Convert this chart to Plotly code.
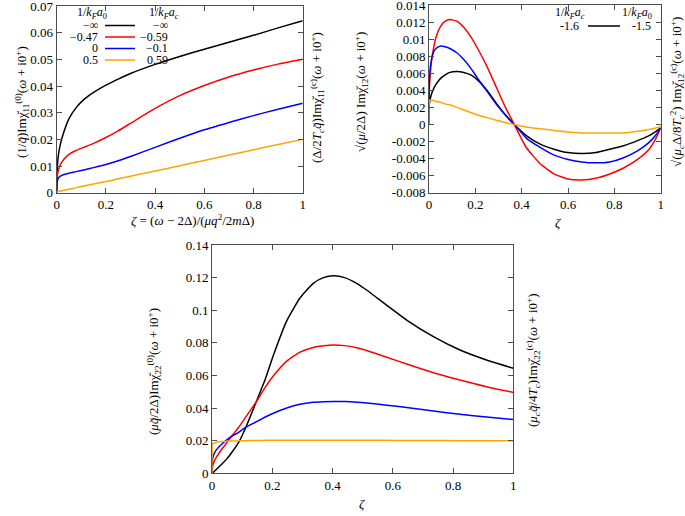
import plotly.graph_objects as go

W, H = 685, 516
def px(x): return x / W
def py(y): return 1 - y / H

FONT = "Liberation Serif, Times New Roman, DejaVu Serif, serif"
COLORS = ["#000000", "#ff0000", "#0000ff", "#ffa500"]

# ---------- Panel 1 (top-left): chi11 ----------
zeta_a = [0, 0.001, 0.003, 0.007, 0.015, 0.03, 0.05, 0.08, 0.11, 0.15, 0.2, 0.25, 0.3, 0.4, 0.5, 0.6, 0.7, 0.8, 0.9, 1.0]
chi11 = [
    [0, 0.0065, 0.0105, 0.0142, 0.0182, 0.0230, 0.0278, 0.0320, 0.0349, 0.0376, 0.0403, 0.0426, 0.0447, 0.0481, 0.0511, 0.0538, 0.0564, 0.0590, 0.0618, 0.0645],
    [0, 0.0045, 0.0068, 0.0085, 0.0105, 0.0126, 0.0144, 0.0159, 0.0170, 0.0185, 0.0207, 0.0232, 0.0260, 0.0316, 0.0364, 0.0402, 0.0434, 0.0460, 0.0482, 0.0500],
    [0, 0.003, 0.0045, 0.0055, 0.0062, 0.0068, 0.0073, 0.0079, 0.0085, 0.0094, 0.0106, 0.0120, 0.0136, 0.0170, 0.0204, 0.0236, 0.0263, 0.0289, 0.0313, 0.0335],
    [0, 0.0002, 0.0004, 0.0005, 0.0006, 0.0009, 0.0013, 0.0019, 0.0025, 0.0033, 0.0042, 0.0052, 0.0062, 0.0081, 0.0101, 0.0121, 0.0141, 0.0161, 0.0181, 0.0200],
]
leg_a0 = ["−∞", "−0.47", "0", "0.5"]
leg_ac = ["−∞", "−0.59", "−0.1", "0.59"]

# ---------- Panel 2 (top-right): chi12 ----------
zeta_b = [0, 0.002, 0.01, 0.02, 0.03, 0.05, 0.07, 0.09, 0.12, 0.15, 0.18, 0.21, 0.25, 0.29, 0.33, 0.368,
          0.42, 0.48, 0.54, 0.6, 0.66, 0.72, 0.78, 0.84, 0.9, 0.95, 0.98, 1.0]
chi12 = [
    [0, 0.0025, 0.0035, 0.0042, 0.0047, 0.0054, 0.0058, 0.0061, 0.0062, 0.0061, 0.0058, 0.0052, 0.0040, 0.0025, 0.0011, 0.0,
     -0.0013, -0.0023, -0.0029, -0.0033, -0.0034, -0.0033, -0.0029, -0.0025, -0.0019, -0.0013, -0.0008, -0.0004],
    [0, 0.0045, 0.0072, 0.0090, 0.0102, 0.0115, 0.0121, 0.0123, 0.0121, 0.0114, 0.0103, 0.0089, 0.0068, 0.0044, 0.0020, 0.0,
     -0.0027, -0.0046, -0.0058, -0.0064, -0.0065, -0.0063, -0.0058, -0.0051, -0.0041, -0.0029, -0.0016, -0.0004],
    [0, 0.0055, 0.0075, 0.0085, 0.0089, 0.0092, 0.0091, 0.0089, 0.0084, 0.0076, 0.0066, 0.0054, 0.0039, 0.0024, 0.0011, 0.0,
     -0.0016, -0.0027, -0.0036, -0.0041, -0.0044, -0.0045, -0.0044, -0.0039, -0.0031, -0.0021, -0.0012, -0.0004],
    [0, 0.0028, 0.0029, 0.0028, 0.0027, 0.0026, 0.0024, 0.0023, 0.0020, 0.0017, 0.0014, 0.0011, 0.0008, 0.0005, 0.0002, 0.0,
     -0.0003, -0.0005, -0.0007, -0.0009, -0.0010, -0.0010, -0.0010, -0.0010, -0.0008, -0.0006, -0.0004, -0.0002],
]
yticks_b = [-0.008, -0.006, -0.004, -0.002, 0, 0.002, 0.004, 0.006, 0.008, 0.01, 0.012, 0.014]
yticktext_b = ["-0.008", "-0.006", "-0.004", "-0.002", "0", "0.002", "0.004", "0.006", "0.008", "0.01", "0.012", "0.014"]

# ---------- Panel 3 (bottom): chi22 ----------
zeta_c = [0, 0.002, 0.006, 0.015, 0.033, 0.05, 0.066, 0.0885, 0.11, 0.144, 0.177, 0.204, 0.248, 0.292, 0.336, 0.37,
          0.403, 0.44, 0.48, 0.513, 0.58, 0.646, 0.735, 0.823, 0.911, 1.0]
chi22 = [
    [0, 0.0002, 0.0008, 0.0025, 0.0057, 0.009, 0.0129, 0.019, 0.0272, 0.0425, 0.0578, 0.0725, 0.0935, 0.1075, 0.1165, 0.1200,
     0.1211, 0.1200, 0.1165, 0.1124, 0.103, 0.094, 0.0838, 0.0756, 0.0695, 0.0644],
    [0, 0.004, 0.0067, 0.0100, 0.0149, 0.0190, 0.0230, 0.0282, 0.0340, 0.0430, 0.0528, 0.0598, 0.0688, 0.0743, 0.0772, 0.0782,
     0.0787, 0.0783, 0.0770, 0.0753, 0.0712, 0.0670, 0.0617, 0.0572, 0.0531, 0.0496],
    [0, 0.0088, 0.0115, 0.0145, 0.0180, 0.0206, 0.0228, 0.0251, 0.0280, 0.0313, 0.0345, 0.0368, 0.0400, 0.0423, 0.0435, 0.0439,
     0.0441, 0.0440, 0.0436, 0.0431, 0.0418, 0.0403, 0.0382, 0.0362, 0.0345, 0.0330],
    [0, 0.0180, 0.0186, 0.0191, 0.0195, 0.0197, 0.0198, 0.0199, 0.0200, 0.0201, 0.0202, 0.0202, 0.0202, 0.0203, 0.0203, 0.0203,
     0.0203, 0.0203, 0.0202, 0.0202, 0.0202, 0.0201, 0.0201, 0.0200, 0.0200, 0.0199],
]

fig = go.Figure()
for ys, c in zip(chi11, COLORS):
    fig.add_trace(go.Scatter(x=zeta_a, y=ys, mode="lines", line=dict(color=c, width=1.5, shape="spline", smoothing=0.5),
                             xaxis="x", yaxis="y", showlegend=False))
for ys, c in zip(chi12, COLORS):
    fig.add_trace(go.Scatter(x=zeta_b, y=ys, mode="lines", line=dict(color=c, width=1.5, shape="spline", smoothing=0.5),
                             xaxis="x2", yaxis="y2", showlegend=False))
for ys, c in zip(chi22, COLORS):
    fig.add_trace(go.Scatter(x=zeta_c, y=ys, mode="lines", line=dict(color=c, width=1.5, shape="spline", smoothing=0.5),
                             xaxis="x3", yaxis="y3", showlegend=False))

axis_style = dict(showline=True, linecolor="#4d4d4d", linewidth=1, mirror="ticks", ticks="inside",
                  ticklen=5, tickcolor="#4d4d4d", showgrid=False, zeroline=False, automargin=False,
                  ticklabeloverflow="allow",
                  tickfont=dict(family=FONT, size=13, color="black"))
xticks = [0, 0.2, 0.4, 0.6, 0.8, 1]
fig.update_layout(
    width=W, height=H, margin=dict(l=0, r=0, t=0, b=0, autoexpand=False),
    paper_bgcolor="white", plot_bgcolor="white",
    font=dict(family=FONT, size=13, color="black"),
    xaxis=dict(domain=[px(56.7), px(302.7)], range=[0, 1], tickvals=xticks, anchor="y", **axis_style),
    yaxis=dict(domain=[py(192.7), py(6)], range=[0, 0.07], dtick=0.01, anchor="x", **axis_style),
    xaxis2=dict(domain=[px(429), px(660.7)], range=[0, 1], tickvals=xticks, anchor="y2", **axis_style),
    yaxis2=dict(domain=[py(192.7), py(5)], range=[-0.008, 0.014], tickvals=yticks_b, ticktext=yticktext_b,
                anchor="x2", **axis_style),
    xaxis3=dict(domain=[px(212), px(513.3)], range=[0, 1], tickvals=xticks, anchor="y3", **axis_style),
    yaxis3=dict(domain=[py(473.3), py(245)], range=[0, 0.14], dtick=0.02, anchor="x3", **axis_style),
)

ann = []
def text(x, y, s, size=13, angle=0, xanchor="center"):
    ann.append(dict(x=px(x), y=py(y), xref="paper", yref="paper", text=s, showarrow=False,
                    textangle=angle, xanchor=xanchor, yanchor="middle",
                    font=dict(family=FONT, size=size, color="black")))

chi = "χ̆"
qb = "<i>q̆</i>"
# axis titles
text(22, 102, f"(1/{qb})Im{chi}<sub>11</sub><sup>(0)</sup>(<i>ω</i> + i0<sup>+</sup>)", angle=-90)
text(317, 98, f"(Δ/2<i>T<sub>c</sub></i>{qb})Im{chi}<sub>11</sub><sup>(c)</sup>(<i>ω</i> + i0<sup>+</sup>)", angle=-90)
text(192, 220, "<i>ζ</i> = (<i>ω</i> − 2Δ)/(<i>μq</i><sup>2</sup>/2<i>m</i>Δ)")
text(361, 92, f"√(<i>μ</i>/2Δ) Im{chi}<sub>12</sub>(<i>ω</i> + i0<sup>+</sup>)", angle=-90)
text(677, 92, f"√(<i>μ<sub>c</sub></i>Δ/8<i>T<sub>c</sub></i><sup>2</sup>) Im{chi}<sub>12</sub><sup>(c)</sup>(<i>ω</i> + i0<sup>+</sup>)", angle=-90)
text(558, 222, "<i>ζ</i>")
text(154, 372, f"(<i>μ</i>{qb}/2Δ)Im{chi}<sub>22</sub><sup>(0)</sup>(<i>ω</i> + i0<sup>+</sup>)", angle=-90)
text(533, 360, f"(<i>μ<sub>c</sub></i>{qb}/4<i>T<sub>c</sub></i>)Im{chi}<sub>22</sub><sup>(c)</sup>(<i>ω</i> + i0<sup>+</sup>)", angle=-90)
text(362, 503, "<i>ζ</i>")

# legend panel 1
text(92, 13, "1/<i>k<sub>F</sub>a</i><sub>0</sub>", size=12)
text(164, 13, "1/<i>k<sub>F</sub>a<sub>c</sub></i>", size=12)
rows_y = [25.5, 37, 48.5, 60]
shapes = []
for yy, a0, ac, c in zip(rows_y, leg_a0, leg_ac, COLORS):
    text(100, yy, a0, size=12, xanchor="right")
    text(170, yy, ac, size=12, xanchor="right")
    shapes.append(dict(type="line", xref="paper", yref="paper", x0=px(105), x1=px(135), y0=py(yy), y1=py(yy),
                       line=dict(color=c, width=1.5)))
# legend panel 2
text(570, 13, "1/<i>k<sub>F</sub>a<sub>c</sub></i>", size=12)
text(637, 13, "1/<i>k<sub>F</sub>a</i><sub>0</sub>", size=12)
text(581, 26, "-1.6", size=12, xanchor="right")
text(653, 26, "-1.5", size=12, xanchor="right")
shapes.append(dict(type="line", xref="paper", yref="paper", x0=px(588), x1=px(620), y0=py(26), y1=py(26),
                   line=dict(color="black", width=1.5)))

fig.update_layout(annotations=ann, shapes=shapes)
fig.write_html("out.html", config={"displayModeBar": False},
               post_script="document.body.style.margin='0';document.body.style.overflow='hidden';")
